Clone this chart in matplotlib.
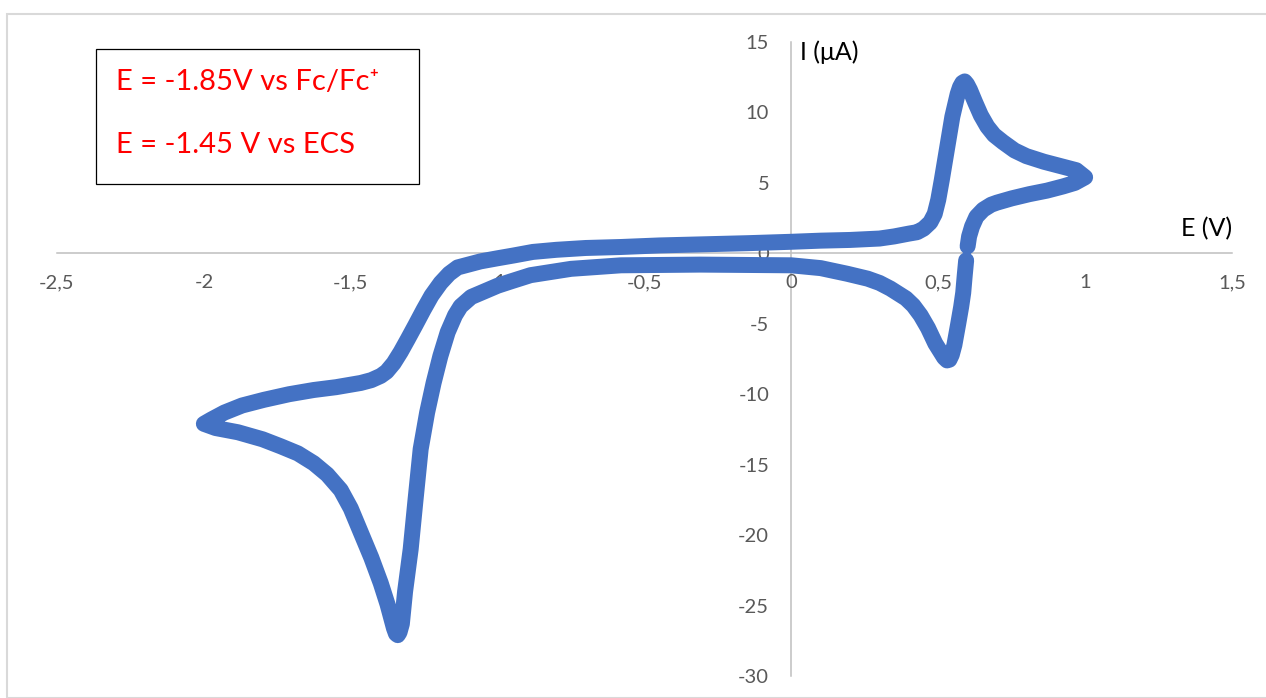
import numpy as np
import matplotlib
matplotlib.use("Agg")
import matplotlib.pyplot as plt
from matplotlib.patches import Rectangle

plt.rcParams['font.family'] = ['Lato', 'DejaVu Sans']

# cyclic voltammogram (E in V, I in uA)
E_V = [0.600, 0.605, 0.615, 0.630, 0.653, 0.680, 0.700, 0.750, 0.810, 0.870, 0.925, 0.965, 1.000,
       0.970, 0.915, 0.860, 0.800, 0.760, 0.720, 0.690, 0.667, 0.645, 0.626, 0.608, 0.598, 0.590,
       0.582, 0.574, 0.566, 0.558, 0.548, 0.536, 0.524, 0.512, 0.500, 0.488, 0.473, 0.450, 0.428,
       0.400, 0.350, 0.300, 0.200, 0.100, 0.000, -0.150, -0.300, -0.450, -0.580, -0.700, -0.800,
       -0.880, -0.945, -1.000, -1.058, -1.100, -1.136, -1.165, -1.194, -1.225, -1.252, -1.280,
       -1.306, -1.330, -1.354, -1.378, -1.398, -1.430, -1.466, -1.550, -1.626, -1.710, -1.796,
       -1.870, -1.930, -1.975, -2.000, -1.960, -1.884, -1.800, -1.738, -1.680, -1.626, -1.580,
       -1.534, -1.500, -1.466, -1.430, -1.398, -1.375, -1.362, -1.353, -1.346, -1.340, -1.334,
       -1.326, -1.315, -1.296, -1.280, -1.262, -1.240, -1.218, -1.195, -1.170, -1.145, -1.126,
       -1.090, -1.000, -0.956, -0.888, -0.750, -0.580, -0.310, 0.000, 0.100, 0.190, 0.260, 0.300,
       0.337, 0.360, 0.390, 0.415, 0.440, 0.465, 0.490, 0.508, 0.520, 0.530, 0.538, 0.546, 0.555,
       0.568, 0.578, 0.585, 0.590, 0.595]
I_uA = [0.5, 1.2, 1.9, 2.6, 3.1, 3.45, 3.6, 3.9, 4.2, 4.45, 4.75, 5.0, 5.4,
        5.9, 6.2, 6.5, 6.9, 7.3, 7.9, 8.4, 9.0, 9.8, 10.7, 11.6, 12.0, 12.2,
        12.1, 11.8, 11.3, 10.6, 9.7, 8.2, 6.7, 5.2, 3.8, 2.8, 2.2, 1.75, 1.5,
        1.4, 1.2, 1.05, 0.95, 0.9, 0.82, 0.72, 0.64, 0.56, 0.45, 0.38, 0.25,
        0.1, -0.15, -0.35, -0.57, -0.8, -1.0, -1.45, -2.1, -3.0, -4.0, -5.1,
        -6.1, -7.0, -7.8, -8.4, -8.7, -9.0, -9.2, -9.5, -9.7, -10.0, -10.4,
        -10.8, -11.3, -11.8, -12.1, -12.4, -12.7, -13.2, -13.7, -14.2, -14.9, -15.7,
        -16.8, -18.1, -19.8, -21.6, -23.4, -24.9, -25.9, -26.6, -27.0, -27.1, -26.9,
        -26.3, -24.0, -21.0, -17.6, -13.9, -11.3, -9.2, -7.3, -5.6, -4.4, -3.76,
        -3.1, -2.3, -2.0, -1.55, -1.1, -0.85, -0.8, -0.85, -1.05, -1.45, -1.8, -2.1,
        -2.5, -2.8, -3.2, -3.7, -4.4, -5.3, -6.4, -7.0, -7.4, -7.6, -7.55, -7.2, -6.5,
        -5.0, -3.8, -2.8, -1.6, -0.5]

x_ticks = [-2.5, -2, -1.5, -1, -0.5, 0, 0.5, 1, 1.5]
y_ticks = [15, 10, 5, 0, -5, -10, -15, -20, -25, -30]

W, H = 1266, 698
fig = plt.figure(figsize=(W / 100, H / 100), dpi=100)

# light grey chart frame (excel style)
fig.patches.append(Rectangle((7 / W, 0), 1, 1 - 14 / H, transform=fig.transFigure,
                             fill=False, edgecolor='#D9D9D9', linewidth=1.5))

ax = fig.add_axes([57 / W, 1 - 676 / H, (1232 - 57) / W, (676 - 42) / H])
ax.set_xlim(-2.5, 1.5)
ax.set_ylim(-30, 15)
ax.patch.set_alpha(0)

for s in ['top', 'right']:
    ax.spines[s].set_visible(False)
ax.spines['left'].set_position(('data', 0))
ax.spines['bottom'].set_position(('data', 0))
for s in ['left', 'bottom']:
    ax.spines[s].set_color('#BFBFBF')
    ax.spines[s].set_linewidth(1.1)
    ax.spines[s].set_zorder(0)

ax.set_xticks(x_ticks)
ax.set_xticklabels([('%g' % v).replace('.', ',') for v in x_ticks])
ax.set_yticks(y_ticks)
ax.set_yticklabels(['%g' % v for v in y_ticks])
ax.tick_params(axis='both', length=0, labelsize=14.5, labelcolor='#595959')
ax.tick_params(axis='x', pad=15)
ax.tick_params(axis='y', pad=16)

ax.plot(E_V, I_uA, color='#4472C4', linewidth=11.5, solid_capstyle='round',
        solid_joinstyle='round', zorder=3)

# axis titles
fig.text(800 / W, 1 - 52 / H, 'I (\u03bcA)', fontsize=18, color='black', ha='left', va='center')
fig.text(1232 / W, 1 - 229 / H, 'E (V)', fontsize=18, color='black', ha='right', va='center')

# annotation box
fig.patches.append(Rectangle((96 / W, 1 - 184 / H), (419 - 96) / W, (184 - 49) / H,
                             transform=fig.transFigure, fill=True, facecolor='white',
                             edgecolor='black', linewidth=0.9, zorder=5))
fig.text(116 / W, 1 - 90 / H, 'E = -1.85V vs Fc/Fc\u207a', fontsize=21, color='#FF0000',
         ha='left', va='baseline', zorder=6)
fig.text(116 / W, 1 - 153 / H, 'E = -1.45 V vs ECS', fontsize=21, color='#FF0000',
         ha='left', va='baseline', zorder=6)

fig.savefig('out.png', dpi=100)
